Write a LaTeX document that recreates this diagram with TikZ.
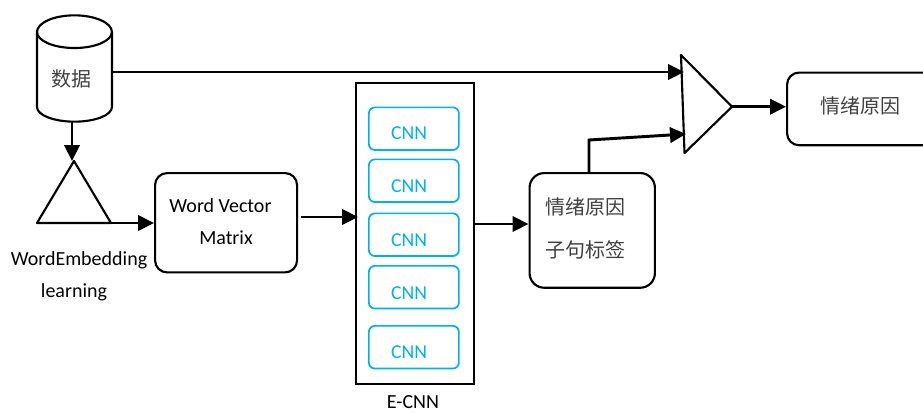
\documentclass[tikz,border=0pt]{standalone}
\usepackage{fontspec}
\setmainfont{Carlito}
\newfontfamily\cjk{Noto Sans CJK SC}
\usetikzlibrary{arrows.meta}
\definecolor{cnnblue}{RGB}{0,176,240}
\definecolor{cjkgrey}{RGB}{64,64,64}
\tikzset{
  flow/.style={line width=2.2pt, -{Triangle[length=12pt,width=11.5pt]}},
  outline/.style={draw, line width=1.6pt},
  softbox/.style={outline, rounded corners=9pt, anchor=north west, inner sep=0pt},
  cnnbox/.style={draw=cnnblue, line width=1.3pt, rounded corners=4.5pt, anchor=north west, inner sep=0pt, minimum width=67.5pt, minimum height=32pt},
  cnntext/.style={text=cnnblue, font=\fontsize{14.8}{17}\selectfont},
  plaintext/.style={font=\fontsize{15}{18}\selectfont},
  cjktext/.style={text=cjkgrey, font=\fontsize{15}{18}\cjk}
}
\begin{document}
\begin{tikzpicture}[x=0.75pt,y=-0.75pt]
  \useasboundingbox (0,0) rectangle (923,412);

  % Data store and embedding triangle
  \coordinate (dataleft) at (37,32);
  \coordinate (dataright) at (112,32);
  \coordinate (databottom) at (72,121.5);
  \draw[outline] (dataleft) arc[start angle=180, end angle=0, x radius=28.1pt, y radius=12.5pt]
    -- ++(0,75) arc[start angle=0, end angle=-180, x radius=28.1pt, y radius=11pt] -- cycle;
  \draw[outline] (dataleft) arc[start angle=180, end angle=360, x radius=28.1pt, y radius=12pt];
  \node[cjktext] (datatext) at (71,79) {数据};
  \coordinate (embedtop) at (74,161);
  \coordinate (embedleft) at (37,223);
  \coordinate (embedright) at (111,223);
  \draw[outline, line join=round] (embedtop) -- (embedleft) -- (embedright) -- cycle;
  \node[plaintext] (embedtext) at (79,260) {WordEmbedding};
  \node[plaintext] (embedtexttwo) at (74,292) {learning};

  % Word vector box
  \node[softbox, minimum width=106.5pt, minimum height=74.5pt] (matrix) at (154,172) {};
  \node[plaintext] (matrixtext) at (220.5,206) {Word Vector};
  \node[plaintext] (matrixtexttwo) at (226,238) {Matrix};
  \coordinate (matrixout) at (301,217);
  \coordinate (ecnnin) at (358,217);

  % E-CNN stack
  \node[outline, anchor=north west, inner sep=0pt, minimum width=88.5pt, minimum height=226pt] (ecnn) at (355,81.5) {};
  \foreach \name/\ytop/\ytext in {a/106.5/133, b/158.5/186, c/212.5/240, d/265/293, e/325/352} {
    \node[cnnbox] (cnn\name) at (368,\ytop) {};
    \node[cnntext] (cnntext\name) at (409,\ytext) {CNN};
  }
  \node[plaintext, inner sep=0pt] (ecnntext) at (413,402.5) {E-CNN};

  % Clause labels
  \node[softbox, minimum width=94pt, minimum height=86pt, rounded corners=11pt] (clause) at (528.5,172) {};
  \node[cjktext] (clausetext) at (585,207) {情绪原因};
  \node[cjktext] (clausetexttwo) at (585,250) {子句标签};

  % Merge triangle and result
  \coordinate (mergetop) at (681,55);
  \coordinate (mergetip) at (732,106.7);
  \coordinate (mergebottom) at (684.5,153);
  \coordinate (mergeupper) at (684,72);
  \coordinate (mergelower) at (686,134);
  \coordinate (clausebend) at (589,140);
  \draw[outline, line join=round] (mergetop) -- (mergetip) -- (mergebottom) -- cycle;
  \node[softbox, minimum width=130pt, minimum height=54.5pt] (result) at (786,71.5) {};
  \node[cjktext] (resulttext) at (860,106) {情绪原因};

  % Connectors
  \draw[flow] (databottom) -- (databottom |- embedtop);
  \draw[flow] (embedright) -- (embedright -| matrix.west);
  \draw[flow] (matrixout) -- (ecnnin);
  \draw[flow] (ecnn.east |- 0,224) -- (clause.west |- 0,224);
  \draw[flow] (dataright |- mergeupper) -- (mergeupper);
  \draw[flow] (clause.north -| clausebend) -- (clausebend) -- (mergelower);
  \draw[flow] (mergetip) -- (mergetip -| result.west);
\end{tikzpicture}
\end{document}
